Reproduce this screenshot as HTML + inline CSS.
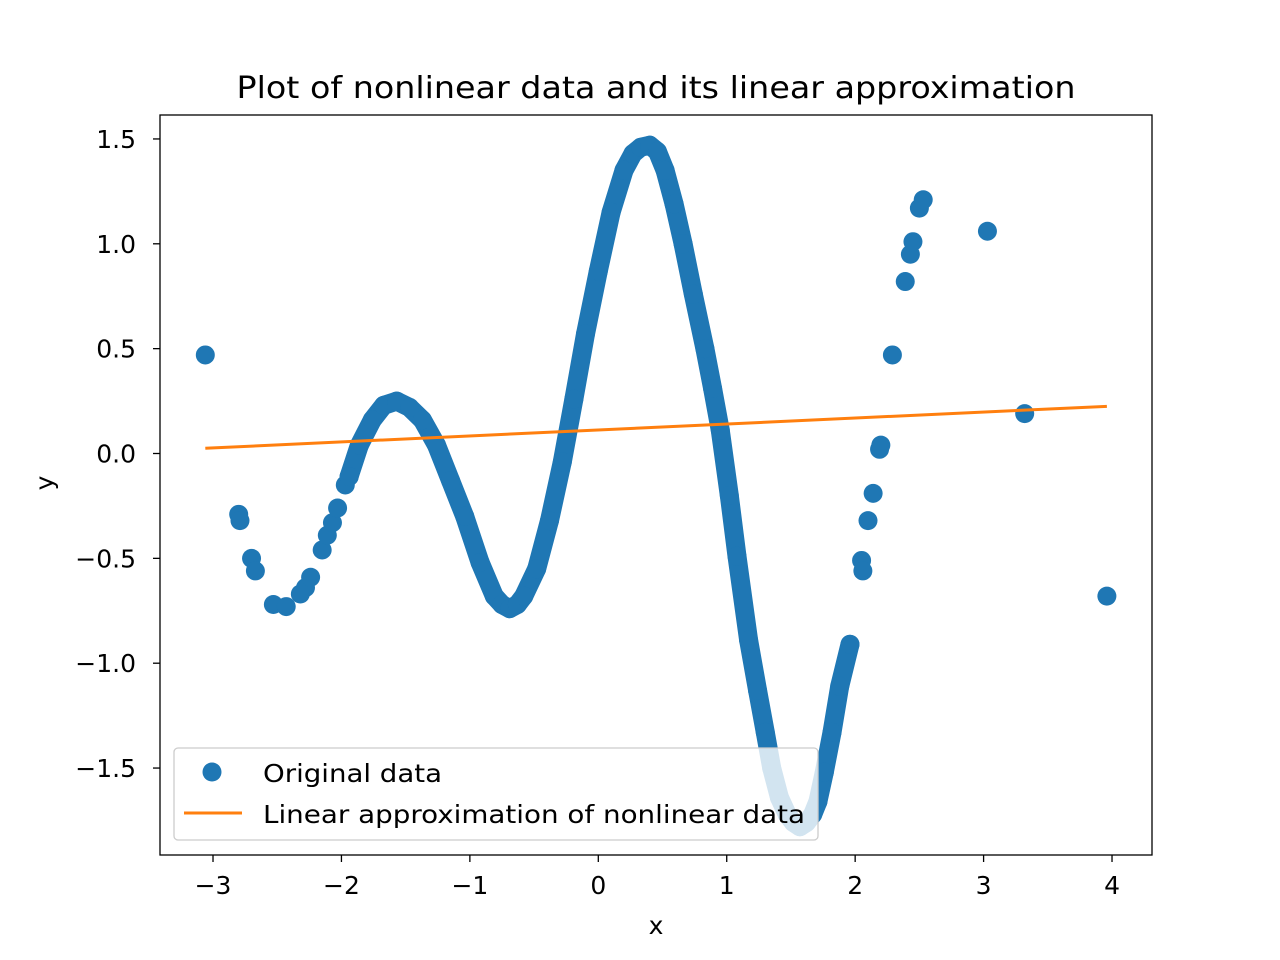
<!DOCTYPE html>
<html><head><meta charset="utf-8"><style>
html,body{margin:0;padding:0;background:#fff;}
svg{display:block;font-family:"DejaVu Sans","Liberation Sans",sans-serif;}
</style></head><body>
<svg id="chart" width="1280" height="960" viewBox="0 0 1280 960">
<rect x="0" y="0" width="1280" height="960" fill="#fff"/>
<text x="656" y="98" font-size="30" text-anchor="middle" textLength="839" lengthAdjust="spacingAndGlyphs">Plot of nonlinear data and its linear approximation</text>
<g id="plot"></g>
<text x="656" y="934" font-size="25" text-anchor="middle">x</text>
<text x="53" y="483" font-size="25" text-anchor="middle" transform="rotate(-90 53 483)">y</text>
</svg>
<script>
const sparseX=[-3.06,-2.80,-2.79,-2.70,-2.67,-2.53,-2.43,-2.32,-2.28,-2.24,-2.15,-2.11,-2.07,-2.03,-1.97,-1.94,2.05,2.06,2.10,2.14,2.19,2.20,2.29,2.39,2.43,2.45,2.50,2.53,3.03,3.32,3.96];
const sparseY=[0.47,-0.29,-0.32,-0.50,-0.56,-0.72,-0.73,-0.67,-0.64,-0.59,-0.46,-0.39,-0.33,-0.26,-0.15,-0.11,-0.51,-0.56,-0.32,-0.19,0.02,0.04,0.47,0.82,0.95,1.01,1.17,1.21,1.06,0.19,-0.68];
const denseX=[-1.94,-1.86,-1.76,-1.67,-1.57,-1.47,-1.37,-1.26,-1.15,-1.04,-0.92,-0.81,-0.75,-0.69,-0.63,-0.58,-0.48,-0.38,-0.28,-0.19,-0.10,0.00,0.10,0.20,0.27,0.33,0.40,0.46,0.52,0.59,0.66,0.74,0.83,0.89,0.95,1.02,1.08,1.17,1.24,1.30,1.35,1.41,1.47,1.52,1.57,1.62,1.67,1.71,1.76,1.82,1.88,1.96];
const denseY=[-0.11,0.04,0.16,0.23,0.25,0.22,0.16,0.04,-0.13,-0.30,-0.52,-0.68,-0.72,-0.74,-0.72,-0.68,-0.55,-0.32,-0.04,0.26,0.57,0.87,1.15,1.35,1.43,1.46,1.47,1.44,1.35,1.19,1.00,0.76,0.50,0.31,0.11,-0.20,-0.49,-0.89,-1.13,-1.33,-1.50,-1.64,-1.72,-1.76,-1.78,-1.76,-1.72,-1.66,-1.52,-1.33,-1.11,-0.91];
const lineX=[-3.06,3.96];
const lineY=[0.025,0.225];
const xTicks=[-3,-2,-1,0,1,2,3,4];
const yTicks=[-1.5,-1.0,-0.5,0.0,0.5,1.0,1.5];
const xTickLabels=["\u22123","\u22122","\u22121","0","1","2","3","4"];
const yTickLabels=["\u22121.5","\u22121.0","\u22120.5","0.0","0.5","1.0","1.5"];

const L=160,R=1152,T=115,B=855;
function sx(v){return 598.3+v*128.43;}
function sy(v){return 453.5-v*209.7;}
const NS="http://www.w3.org/2000/svg";
const g=document.getElementById('plot');
function el(t,a,p){const e=document.createElementNS(NS,t);for(const k in a)e.setAttribute(k,a[k]);(p||g).appendChild(e);return e;}
const BLUE="#1f77b4",ORANGE="#ff7f0e";
let d="";
denseX.forEach((x,i)=>{d+=(i?"L":"M")+sx(x).toFixed(1)+","+sy(denseY[i]).toFixed(1);});
const band=el('path',{d:d,fill:'none',stroke:BLUE,'stroke-width':19,'stroke-linejoin':'round','stroke-linecap':'round'});


denseX.forEach((x,i)=>{
  const c=el('circle',{cx:sx(x),cy:sy(denseY[i]),r:9.5,fill:BLUE});
  
  
});
sparseX.forEach((x,i)=>{
  const c=el('circle',{cx:sx(x),cy:sy(sparseY[i]),r:9.5,fill:BLUE});
  
  
});
const ln=el('line',{x1:sx(lineX[0]),y1:sy(lineY[0]),x2:sx(lineX[1]),y2:sy(lineY[1]),stroke:ORANGE,'stroke-width':3});


const fr=el('rect',{x:L,y:T,width:R-L,height:B-T,fill:'none',stroke:'#000','stroke-width':1.3});


xTicks.forEach((v,i)=>{
  const t=el('line',{x1:sx(v),y1:B,x2:sx(v),y2:B+7,stroke:'#000','stroke-width':1.3});
  
  
  const tx=el('text',{x:sx(v),y:B+39,'font-size':25,'text-anchor':'middle'});
  tx.textContent=xTickLabels[i];
  
  
});
yTicks.forEach((v,i)=>{
  const t=el('line',{x1:L-7,y1:sy(v),x2:L,y2:sy(v),stroke:'#000','stroke-width':1.3});
  
  
  const tx=el('text',{x:L-24,y:sy(v)+9,'font-size':25,'text-anchor':'end'});
  tx.textContent=yTickLabels[i];
  
  
});
const lg=el('g',{});


el('rect',{x:174,y:748,width:644,height:92,rx:4,fill:'rgba(255,255,255,0.8)',stroke:'#cccccc','stroke-width':1.3},lg);
const lc=el('circle',{cx:212,cy:772,r:9.5,fill:BLUE},lg);


const t1=el('text',{x:263,y:782,'font-size':25,textLength:179,lengthAdjust:'spacingAndGlyphs'},lg);t1.textContent="Original data";


const ll=el('line',{x1:184,y1:813,x2:242,y2:813,stroke:ORANGE,'stroke-width':3},lg);


const t2=el('text',{x:263,y:823,'font-size':25,textLength:542,lengthAdjust:'spacingAndGlyphs'},lg);t2.textContent="Linear approximation of nonlinear data";


</script>
</body></html>
